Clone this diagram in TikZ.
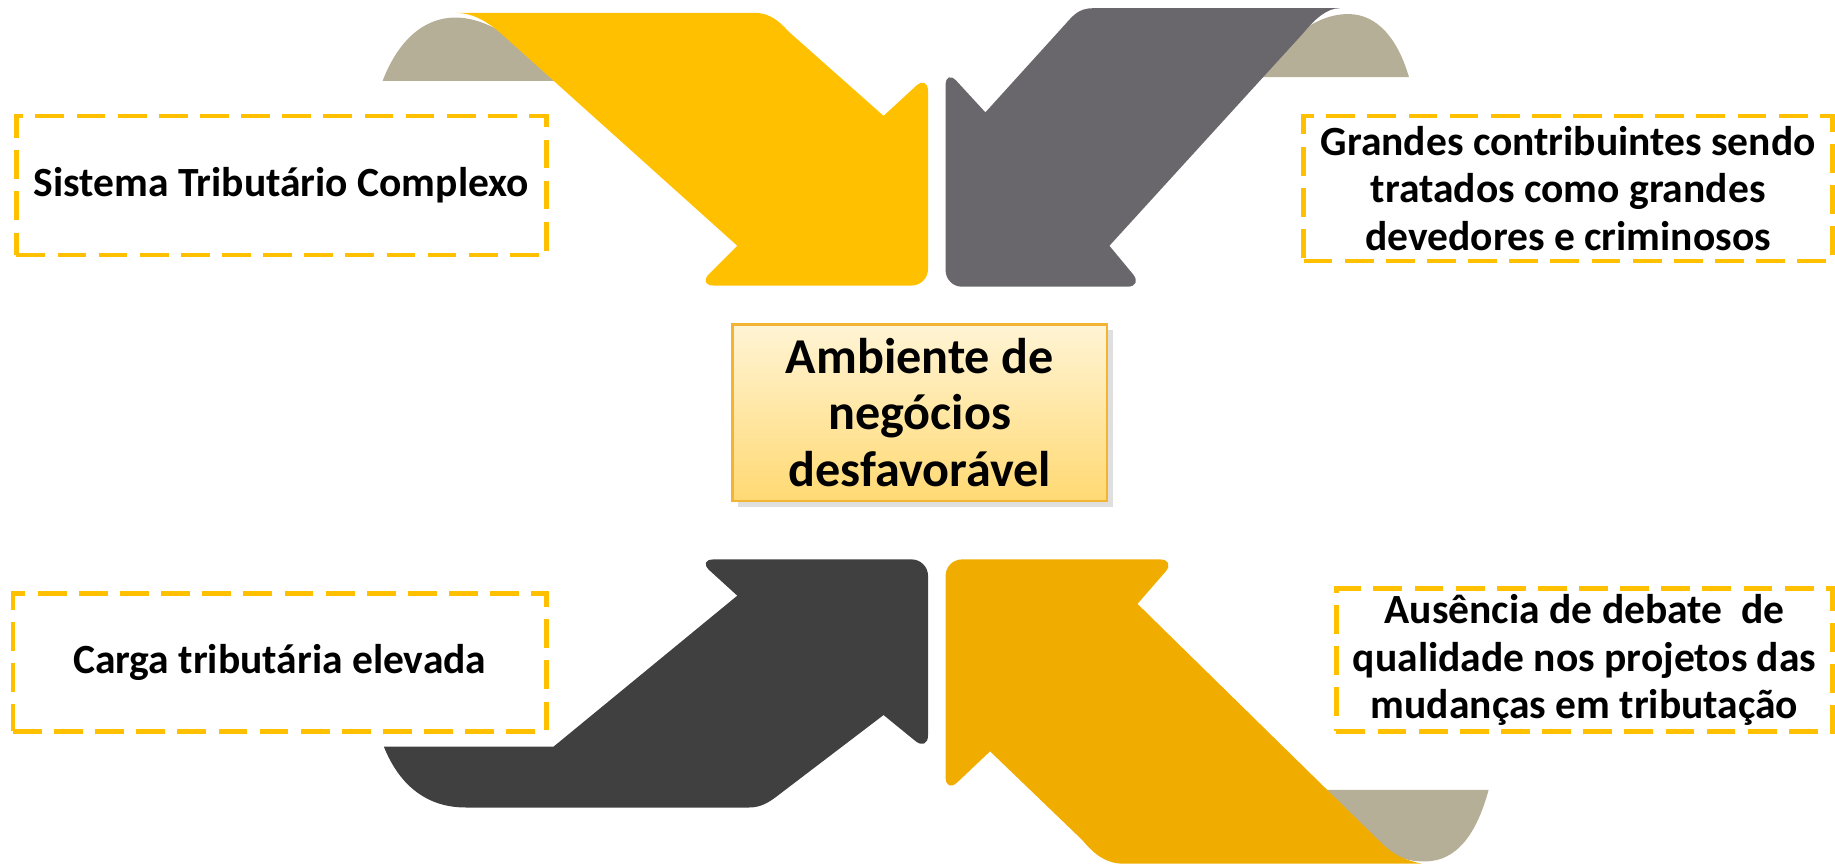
\documentclass[tikz,border=0pt]{standalone}
\usepackage{fontspec}
\setmainfont{Carlito}
\usetikzlibrary{shadows}

\definecolor{gold}{RGB}{255,192,0}
\definecolor{darkgold}{RGB}{240,173,0}
\definecolor{slate}{RGB}{105,103,108}
\definecolor{charcoal}{RGB}{64,64,64}
\definecolor{khaki}{RGB}{182,175,152}
\definecolor{boxedge}{RGB}{242,180,50}
\definecolor{boxtop}{RGB}{255,244,212}
\definecolor{boxbottom}{RGB}{255,217,115}

\begin{document}
\begin{tikzpicture}[
            x=0.1mm, y=-0.1mm,
            cause/.style={rectangle, draw=gold, line width=1.1pt, dash pattern=on 7pt off 3pt, inner sep=0pt, align=center, font=\fontsize{10.1}{11.5}\selectfont\bfseries},
            effect/.style={rectangle, draw=boxedge, line width=0.6pt, top color=boxtop, bottom color=boxbottom, drop shadow={shadow xshift=0.5mm, shadow yshift=-0.5mm, opacity=0.25}, minimum width=32mm, minimum height=14.9mm, align=center, font=\fontsize{12.2}{13.8}\selectfont\bfseries},
            corner/.style={rounded corners=4pt}
        ]
        \useasboundingbox (0,0) rectangle (1568,738);

        %folds
        \fill[khaki] (327,69) .. controls (340,35) and (362,15) .. (389,15) .. controls (420,15) and (450,40) .. (480,69) -- cycle;
        \fill[khaki] (1070,66) .. controls (1095,40) and (1120,12) .. (1152,12) .. controls (1178,12) and (1195,35) .. (1204,66) -- cycle;
        \fill[khaki] (1125,675) -- (1272,675) .. controls (1262,712) and (1245,736) .. (1218,736) .. controls (1190,737) and (1170,720) .. (1125,675) -- cycle;

        %arrows
        \fill[gold] (389,11) -- (645,11) .. controls (660,11) and (668,21) .. (675,28) -- (755,99)
            [corner] -- (793,64) -- (793,244) -- (596,244) [sharp corners] -- (630,210)
            -- (433,33) .. controls (418,19) and (405,11) .. (389,11) -- cycle;
        \fill[slate] (1145,7) -- (934,7) .. controls (922,7) and (917,13) .. (910,21) -- (842,96)
            [corner] -- (808,59) -- (808,245) -- (977,245) [sharp corners] -- (948,210)
            -- (1113,29) .. controls (1123,17) and (1133,7) .. (1145,7) -- cycle;
        \fill[charcoal] (630,509) [corner] -- (596,478) -- (793,478) -- (793,642) [sharp corners] -- (755,611)
            -- (667,678) .. controls (657,686) and (650,690) .. (640,690) -- (398,690)
            .. controls (362,690) and (340,668) .. (328,638) -- (473,638) -- cycle;
        \fill[darkgold] (972,516) [corner] -- (1005,478) -- (808,478) -- (808,678) [sharp corners] -- (846,642)
            -- (925,718) .. controls (935,730) and (945,738) .. (960,738) -- (1215,738)
            .. controls (1200,735) and (1190,730) .. (1180,720) -- cycle;

        %causes
        \node[cause, minimum width=45.3mm, minimum height=11.9mm] (sistema) at (240.5,158.5) {Sistema Tributário Complexo};
        \node[cause, minimum width=45.2mm, minimum height=12.4mm] (grandes) at (1340,161) {Grandes contribuintes sendo\\tratados como grandes\\devedores e criminosos};
        \node[cause, minimum width=45.6mm, minimum height=11.8mm] (carga) at (239,566) {Carga tributária elevada};
        \node[cause, minimum width=42.4mm, minimum height=12.2mm] (debate) at (1354,564) {Ausência de debate~ de\\qualidade nos projetos das\\mudanças em tributação};

        %effect
        \node[effect] (ambiente) at (786,352.5) {Ambiente de\\negócios\\desfavorável};

\end{tikzpicture}
\end{document}
